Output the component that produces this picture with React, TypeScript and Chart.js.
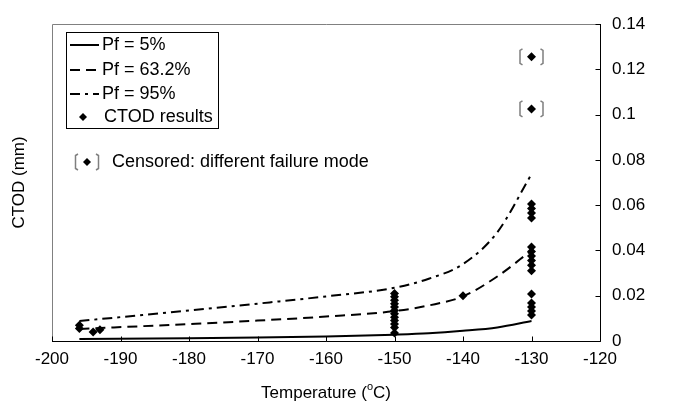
import { useEffect, useRef } from "react";
import { Chart, registerables } from "chart.js";

Chart.register(...registerables);

const FONT = "'Liberation Sans', Arial, Helvetica, sans-serif";

// Fitted curves
const curveTemps = [-196, -180, -170, -160, -150, -145, -140, -135, -130];
const pf5 = [0.0009, 0.0012, 0.0015, 0.002, 0.0028, 0.0034, 0.0045, 0.006, 0.0088];
const pf632 = [0.0053, 0.0075, 0.009, 0.0108, 0.0132, 0.0157, 0.0197, 0.0285, 0.040];
const pf95 = [0.0088, 0.0135, 0.0165, 0.0197, 0.0235, 0.0275, 0.034, 0.048, 0.0737];

// CTOD test results
const ctodTemps = [
  -196, -196, -194, -193,
  -150, -150, -150, -150, -150, -150, -150, -150, -150, -150, -150, -150,
  -140,
  -130, -130, -130, -130,
  -130, -130, -130, -130, -130, -130,
  -130, -130, -130, -130, -130,
];
const ctodValues = [
  0.007, 0.0055, 0.004, 0.005,
  0.021, 0.0195, 0.018, 0.0165, 0.015, 0.0135, 0.012, 0.0105, 0.009, 0.0075, 0.006, 0.0035,
  0.02,
  0.0605, 0.0585, 0.0565, 0.0543,
  0.0415, 0.0395, 0.0375, 0.0355, 0.0335, 0.031,
  0.0208, 0.0168, 0.015, 0.0132, 0.0115,
];

// Censored results (different failure mode)
const censoredTemps = [-130, -130];
const censoredValues = [0.1025, 0.1255];

const xTicks = [-200, -190, -180, -170, -160, -150, -140, -130, -120];
const yTicks = [0, 0.02, 0.04, 0.06, 0.08, 0.1, 0.12, 0.14];

const legendLabels = ["Pf = 5%", "Pf = 63.2%", "Pf = 95%", "CTOD results"];
const censoredNote = "Censored: different failure mode";
const xTitle = ["Temperature (", "o", "C)"];
const yTitle = "CTOD (mm)";

const DASH = [10, 6];
const DASHDOT = [10, 5, 3, 5];

function diamond(ctx: CanvasRenderingContext2D, x: number, y: number, r: number) {
  ctx.beginPath();
  ctx.moveTo(x, y - r);
  ctx.lineTo(x + r, y);
  ctx.lineTo(x, y + r);
  ctx.lineTo(x - r, y);
  ctx.closePath();
  ctx.fillStyle = "#000";
  ctx.fill();
}

function brackets(ctx: CanvasRenderingContext2D, cx: number, cy: number) {
  ctx.save();
  ctx.strokeStyle = "#7f7f7f";
  ctx.lineWidth = 1.5;
  ctx.setLineDash([]);
  ctx.beginPath();
  ctx.moveTo(cx - 9, cy - 8);
  ctx.lineTo(cx - 11.5, cy - 6.5);
  ctx.lineTo(cx - 11.5, cy + 6.5);
  ctx.lineTo(cx - 9, cy + 8);
  ctx.moveTo(cx + 9, cy - 8);
  ctx.lineTo(cx + 11.5, cy - 6.5);
  ctx.lineTo(cx + 11.5, cy + 6.5);
  ctx.lineTo(cx + 9, cy + 8);
  ctx.stroke();
  ctx.restore();
}

const overlay = {
  id: "overlay",
  beforeDatasetsDraw(chart: any) {
    const { ctx, chartArea: a } = chart;
    ctx.save();
    // gray plot border (left, top)
    ctx.strokeStyle = "#808080";
    ctx.lineWidth = 1;
    ctx.beginPath();
    ctx.moveTo(Math.round(a.left) + 0.5, Math.round(a.bottom));
    ctx.lineTo(Math.round(a.left) + 0.5, Math.round(a.top) + 0.5);
    ctx.lineTo(Math.round(a.right), Math.round(a.top) + 0.5);
    ctx.stroke();
    ctx.restore();
  },
  afterDraw(chart: any) {
    const { ctx, chartArea: a, scales } = chart;
    const xs = scales.x;
    const ys = scales.y;
    ctx.save();
    // axes lines (black)
    ctx.strokeStyle = "#000";
    ctx.lineWidth = 1;
    ctx.beginPath();
    const bY = Math.round(a.bottom) + 0.5;
    const rX = Math.round(a.right) + 0.5;
    ctx.moveTo(Math.round(a.left), bY);
    ctx.lineTo(rX, bY);
    ctx.moveTo(rX, bY);
    ctx.lineTo(rX, Math.round(a.top));
    // inward ticks
    xTicks.forEach((t) => {
      const px = Math.round(xs.getPixelForValue(t)) + 0.5;
      ctx.moveTo(px, bY);
      ctx.lineTo(px, bY - 5);
    });
    yTicks.forEach((t) => {
      const py = Math.round(ys.getPixelForValue(t)) + 0.5;
      ctx.moveTo(rX, py);
      ctx.lineTo(rX - 5, py);
    });
    ctx.stroke();

    // censored brackets
    censoredTemps.forEach((t, i) => {
      brackets(ctx, xs.getPixelForValue(t), ys.getPixelForValue(censoredValues[i]));
    });

    // legend
    ctx.strokeStyle = "#000";
    ctx.lineWidth = 1;
    ctx.strokeRect(66.5, 32.5, 152, 96);
    const rows = [45, 70, 94, 117];
    const dashes = [[], DASH, DASHDOT];
    ctx.lineWidth = 2;
    for (let i = 0; i < 3; i++) {
      ctx.setLineDash(dashes[i]);
      ctx.beginPath();
      ctx.moveTo(70, rows[i]);
      ctx.lineTo(99, rows[i]);
      ctx.stroke();
    }
    ctx.setLineDash([]);
    diamond(ctx, 83, rows[3], 4);
    ctx.fillStyle = "#000";
    ctx.font = `18px ${FONT}`;
    ctx.textBaseline = "middle";
    ctx.textAlign = "left";
    legendLabels.forEach((l, i) => {
      ctx.fillText(l, i === 3 ? 104 : 102, rows[i]);
    });

    // censored note
    const ny = 162;
    brackets(ctx, 87, ny);
    diamond(ctx, 87, ny, 4);
    ctx.fillStyle = "#000";
    ctx.fillText(censoredNote, 112, ny);

    // x title with superscript
    ctx.font = `17px ${FONT}`;
    const w0 = ctx.measureText(xTitle[0]).width;
    ctx.font = `11px ${FONT}`;
    const w1 = ctx.measureText(xTitle[1]).width;
    ctx.font = `17px ${FONT}`;
    const w2 = ctx.measureText(xTitle[2]).width;
    const total = w0 + w1 + w2;
    const cx = (a.left + a.right) / 2;
    let x0 = cx - total / 2;
    const ty = 393;
    ctx.fillText(xTitle[0], x0, ty);
    ctx.font = `11px ${FONT}`;
    ctx.fillText(xTitle[1], x0 + w0, ty - 6);
    ctx.font = `17px ${FONT}`;
    ctx.fillText(xTitle[2], x0 + w0 + w1, ty);

    // y title
    ctx.save();
    ctx.translate(19, (a.top + a.bottom) / 2);
    ctx.rotate(-Math.PI / 2);
    ctx.textAlign = "center";
    ctx.fillText(yTitle, 0, 0);
    ctx.restore();

    ctx.restore();
  },
};

export default function App() {
  const ref = useRef<HTMLCanvasElement>(null);
  useEffect(() => {
    if (!ref.current) return;
    const pts = (xsArr: number[], ysArr: number[]) => xsArr.map((x, i) => ({ x, y: ysArr[i] }));
    const curveBase = {
      showLine: true,
      borderColor: "#000",
      borderWidth: 2,
      pointRadius: 0,
      pointHoverRadius: 0,
      cubicInterpolationMode: "monotone" as const,
      fill: false,
      order: 1,
    };
    const chart = new Chart(ref.current, {
      type: "scatter",
      data: {
        datasets: [
          { ...curveBase, label: legendLabels[0], data: pts(curveTemps, pf5) },
          { ...curveBase, label: legendLabels[1], data: pts(curveTemps, pf632), borderDash: DASH },
          { ...curveBase, label: legendLabels[2], data: pts(curveTemps, pf95), borderDash: DASHDOT },
          {
            label: legendLabels[3],
            data: pts(ctodTemps, ctodValues),
            pointStyle: "rectRot",
            pointRadius: 4.5,
            backgroundColor: "#000",
            borderColor: "#000",
            borderWidth: 0,
            order: 0,
          },
          {
            label: "Censored",
            data: pts(censoredTemps, censoredValues),
            pointStyle: "rectRot",
            pointRadius: 4.5,
            backgroundColor: "#000",
            borderColor: "#000",
            borderWidth: 0,
            order: 0,
          },
        ],
      },
      options: {
        animation: false,
        responsive: false,
        devicePixelRatio: 1,
        layout: { padding: { left: 52, top: 24, right: 0, bottom: 0 } },
        plugins: { legend: { display: false }, tooltip: { enabled: false } },
        scales: {
          x: {
            type: "linear",
            min: -200,
            max: -120,
            afterBuildTicks: (s: any) => {
              s.ticks = xTicks.map((v) => ({ value: v }));
            },
            afterFit: (s: any) => {
              s.height = 62;
            },
            grid: { display: false, drawTicks: false },
            border: { display: false },
            ticks: {
              color: "#000",
              font: { family: FONT, size: 17 },
              padding: 8,
              maxRotation: 0,
              autoSkip: false,
              callback: (v: any) => String(v),
            },
          },
          y: {
            type: "linear",
            position: "right",
            min: 0,
            max: 0.14,
            afterBuildTicks: (s: any) => {
              s.ticks = yTicks.map((v) => ({ value: v }));
            },
            afterFit: (s: any) => {
              s.width = 74;
            },
            grid: { display: false, drawTicks: false },
            border: { display: false },
            ticks: {
              color: "#000",
              font: { family: FONT, size: 17 },
              padding: 12,
              autoSkip: false,
              callback: (v: any) => String(Number(Number(v).toFixed(2))),
            },
          },
        },
      },
      plugins: [overlay],
    });
    return () => chart.destroy();
  }, []);
  return (
    <div style={{ position: "fixed", left: 0, top: 0, width: 674, height: 403, background: "#fff" }}>
      <canvas ref={ref} width={674} height={403} />
    </div>
  );
}
